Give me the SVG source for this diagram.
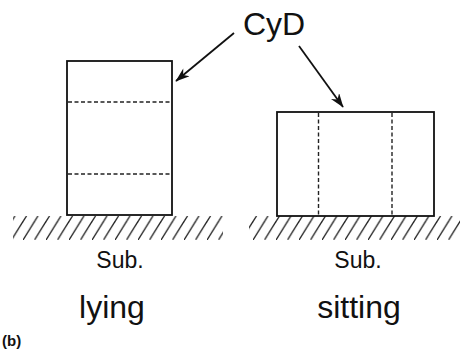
<svg xmlns="http://www.w3.org/2000/svg" width="467" height="351" viewBox="0 0 467 351">
<style>
.box{fill:#fff;stroke:#111;stroke-width:1.8}
.dash{stroke:#222;stroke-width:1.4;stroke-dasharray:4 2.5;fill:none}
.hatch{stroke:#222;stroke-width:1.3}
.arr{stroke:#111;stroke-width:1.8;fill:none;marker-end:url(#ah)}
text{font-family:"Liberation Sans",Arial,sans-serif;fill:#111}
</style>
<defs>
<marker id="ah" viewBox="0 0 20 14" refX="19" refY="7" markerWidth="15" markerHeight="10" orient="auto" markerUnits="userSpaceOnUse">
<path d="M0,0 L20,7 L0,14 L6,7 Z" fill="#111"/>
</marker>
<pattern id="hp" width="11.5" height="24" patternUnits="userSpaceOnUse">
<line x1="0" y1="24" x2="15" y2="0" class="hatch"/>
<line x1="-11.5" y1="24" x2="3.5" y2="0" class="hatch"/>
</pattern>
</defs>
<g id="substrate-left">
<rect x="13" y="216" width="210" height="24" fill="url(#hp)"/>
</g>
<g id="substrate-right">
<rect x="249" y="216" width="211" height="24" fill="url(#hp)"/>
</g>
<g id="lying-molecule">
<rect x="67" y="61" width="105" height="154" class="box"/>
<line x1="68" y1="102" x2="171" y2="102" class="dash"/>
<line x1="68" y1="174" x2="171" y2="174" class="dash"/>
</g>
<g id="sitting-molecule">
<rect x="277" y="112" width="157" height="104" class="box"/>
<line x1="318.5" y1="113" x2="318.5" y2="215" class="dash"/>
<line x1="392" y1="113" x2="392" y2="215" class="dash"/>
</g>
<g id="cyd-label">
<text x="274" y="35" font-size="32" text-anchor="middle">CyD</text>
</g>
<g id="connectors">
<line x1="234" y1="33" x2="176" y2="81" class="arr"/>
<line x1="299" y1="46" x2="343" y2="107" class="arr"/>
</g>
<g id="labels">
<text x="120" y="268" font-size="23" text-anchor="middle">Sub.</text>
<text x="358" y="268" font-size="23" text-anchor="middle">Sub.</text>
<text x="112" y="318" font-size="32" text-anchor="middle">lying</text>
<text x="359" y="318" font-size="32" text-anchor="middle">sitting</text>
<text x="2" y="346" font-size="15" font-weight="bold">(b)</text>
</g>
</svg>
